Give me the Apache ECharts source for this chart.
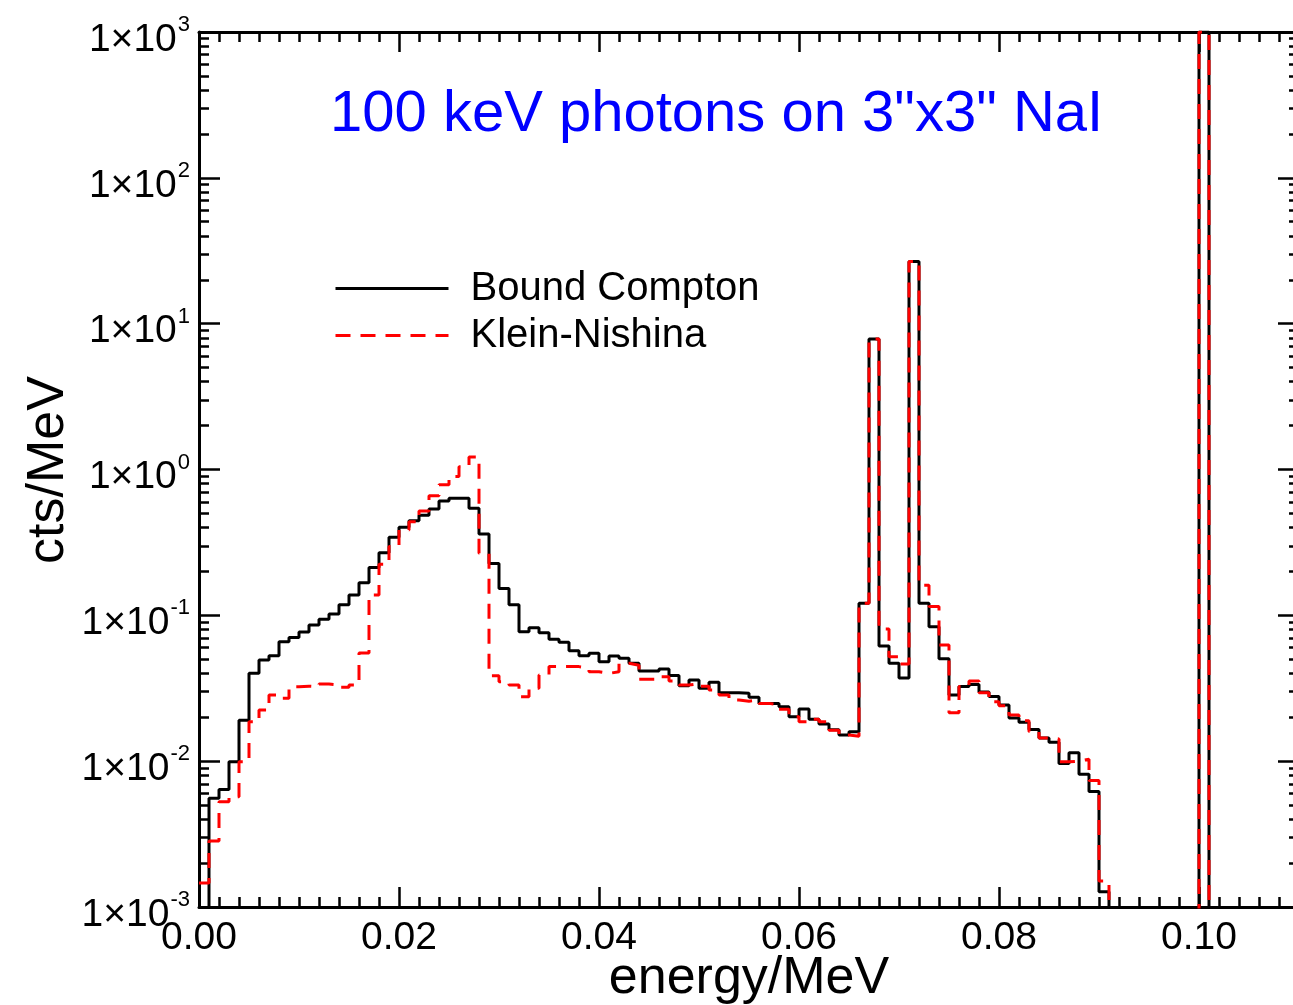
<!DOCTYPE html>
<html>
<head>
<meta charset="utf-8">
<script src="https://cdn.jsdelivr.net/npm/echarts@6/dist/echarts.min.js"></script>
<style>
  html, body { margin: 0; padding: 0; background: #ffffff; }
  #chart { width: 1293px; height: 1005px; }
</style>
</head>
<body>
<div id="chart"></div>
<script>
// Energy deposit spectra, 1 keV bins starting at 0 MeV (cts/MeV per bin)
const binWidth = 0.001;

const boundCompton = [
  0, 5.56e-3, 6.4e-3, 9.9e-3, 1.91e-2, 4.0e-2, 4.94e-2, 5.29e-2, 6.6e-2, 7.06e-2,
  7.7e-2, 8.6e-2, 9.4e-2, 0.102, 0.118, 0.138, 0.167, 0.213, 0.269, 0.343,
  0.402, 0.446, 0.485, 0.536, 0.608, 0.634, 0.634, 0.542, 0.361, 0.227,
  0.153, 0.118, 0.0773, 0.0822, 0.0760, 0.0685, 0.0653, 0.0572, 0.0529, 0.0549,
  0.0481, 0.0526, 0.0507, 0.0469, 0.0415, 0.0415, 0.0429, 0.0386, 0.0329, 0.0360,
  0.0316, 0.0347, 0.0295, 0.0295, 0.0292, 0.0274, 0.0249, 0.0249, 0.0236, 0.0202,
  0.0228, 0.0194, 0.0180, 0.0164, 0.0151, 0.0159, 0.121, 7.84, 0.0616, 0.047,
  0.0372, 26.7, 0.121, 0.0834, 0.0504, 0.0284, 0.0325, 0.0336, 0.0298, 0.0278,
  0.0243, 0.0198, 0.0185, 0.0165, 0.0144, 0.0135, 0.00964, 0.0114, 0.00813, 0.0062,
  0.00127, 0, 0, 0, 0, 0, 0, 0, 0, 0,
  1000, 0, 0, 0, 0, 0, 0, 0, 0, 0
];

const kleinNishina = [
  1.46e-3, 2.83e-3, 5.27e-3, 5.7e-3, 9.9e-3, 0.0186, 0.0224, 0.0284, 0.0270, 0.0324,
  0.0327, 0.0324, 0.0338, 0.0333, 0.0321, 0.0333, 0.0552, 0.138, 0.224, 0.296,
  0.385, 0.438, 0.52, 0.66, 0.785, 0.895, 1.045, 1.22, 0.266, 0.0385,
  0.0351, 0.0333, 0.0277, 0.0316, 0.039, 0.0445, 0.0445, 0.0445, 0.0434, 0.041,
  0.040, 0.041, 0.0469, 0.0455, 0.0364, 0.0364, 0.0379, 0.0355, 0.0333, 0.034,
  0.0327, 0.0308, 0.0284, 0.0263, 0.0258, 0.0263, 0.0249, 0.0243, 0.0227, 0.0202,
  0.0186, 0.0194, 0.0186, 0.0163, 0.0151, 0.0148, 0.121, 7.84, 0.0807, 0.052,
  0.0463, 26.7, 0.161, 0.115, 0.0625, 0.0215, 0.0325, 0.0355, 0.0295, 0.0256,
  0.024, 0.0207, 0.0189, 0.0160, 0.0144, 0.0142, 0.0099, 0.0100, 0.0103, 0.00736,
  0.00151, 0, 0, 0, 0, 0, 0, 0, 0, 0,
  1000, 0, 0, 0, 0, 0, 0, 0, 0, 0
];

const seriesNames = ['Bound Compton', 'Klein-Nishina'];
const titleText = '100 keV photons on 3"x3" NaI';
const xTitle = 'energy/MeV';
const yTitle = 'cts/MeV';

const FONT = '"Liberation Sans", Arial, Helvetica, sans-serif';
const LOG_FLOOR = 1e-6; // empty bins sit below the visible range

// histogram bins -> step-line points (left edge of each bin, plus the final right edge)
function stepData(vals) {
  const pts = vals.map((v, i) => [+(i * binWidth).toFixed(3), Math.max(v, LOG_FLOOR)]);
  pts.push([+(vals.length * binWidth).toFixed(3), Math.max(vals[vals.length - 1], LOG_FLOOR)]);
  return pts;
}

const tickLine = { color: '#000', width: 2.5 };

function xAxisBase(position, showLabel) {
  return {
    type: 'value', position: position, min: 0, max: 0.12, interval: 0.02,
    axisLine: { show: true, onZero: false, lineStyle: { color: '#000', width: 3 } },
    axisTick: { show: true, inside: true, length: 20, lineStyle: tickLine },
    minorTick: { show: true, splitNumber: 10, length: 10, lineStyle: tickLine },
    splitLine: { show: false },
    axisLabel: {
      show: showLabel, margin: 12, fontSize: 39, color: '#000', fontFamily: FONT,
      showMaxLabel: false,
      formatter: v => v.toFixed(2)
    }
  };
}

function yAxisBase(position, showLabel, offset) {
  return {
    type: 'log', logBase: 10, position: position, offset: offset,
    min: 0.001, max: 1000, splitNumber: 6,
    axisLine: { show: true, onZero: false, lineStyle: { color: '#000', width: 3 } },
    axisTick: { show: true, inside: true, length: 21, lineStyle: tickLine },
    minorTick: { show: true, splitNumber: 9, length: 10, lineStyle: tickLine },
    splitLine: { show: false },
    axisLabel: {
      show: showLabel, margin: 9, padding: [16, 0, 0, 0],
      formatter: v => '{m|1×10}{s|' + Math.round(Math.log10(v)) + '}',
      rich: {
        m: { fontSize: 39, lineHeight: 52, fontFamily: FONT, color: '#000' },
        s: { fontSize: 22, lineHeight: 22, verticalAlign: 'top', padding: [0, 0, 0, 1], fontFamily: FONT, color: '#000' }
      }
    }
  };
}

const chart = echarts.init(document.getElementById('chart'), null, { renderer: 'canvas' });

chart.setOption({
  animation: false,
  backgroundColor: '#ffffff',
  grid: { left: 199, top: 32, width: 1200, height: 875, containLabel: false, outerBoundsMode: 'none' },
  xAxis: [xAxisBase('bottom', true), xAxisBase('top', false)],
  yAxis: [yAxisBase('left', true, 0), yAxisBase('right', false, -100)],
  legend: {
    orient: 'vertical', left: 334, top: 265, padding: 0,
    itemWidth: 113, itemHeight: 14, itemGap: 0,
    selectedMode: false,
    data: seriesNames,
    itemStyle: { opacity: 0 },
    lineStyle: { width: 3 },
    textStyle: { fontSize: 40, lineHeight: 47, fontFamily: FONT, color: '#000', padding: [0, 0, 0, 17] }
  },
  graphic: [
    {
      type: 'text', left: 330, top: 86,
      style: { text: titleText, fontSize: 58, fontFamily: FONT, fill: '#0000ff' }
    },
    {
      type: 'text', x: 749, y: 979,
      style: { text: xTitle, fontSize: 52, fontFamily: FONT, fill: '#000', align: 'center', verticalAlign: 'middle' }
    },
    {
      type: 'text', x: 49, y: 470, rotation: Math.PI / 2,
      style: { text: yTitle, fontSize: 52, fontFamily: FONT, fill: '#000', align: 'center', verticalAlign: 'middle' }
    }
  ],
  series: [
    {
      name: seriesNames[0], type: 'line', step: 'end', xAxisIndex: 0, yAxisIndex: 0,
      data: stepData(boundCompton), symbol: 'none', clip: true, z: 2,
      lineStyle: { color: '#000000', width: 3 }, itemStyle: { color: '#000000' }
    },
    {
      name: seriesNames[1], type: 'line', step: 'end', xAxisIndex: 0, yAxisIndex: 0,
      data: stepData(kleinNishina), symbol: 'none', clip: true, z: 3,
      lineStyle: { color: '#ff0000', width: 3, type: [15, 10] }, itemStyle: { color: '#ff0000' }
    }
  ]
});
</script>
</body>
</html>
